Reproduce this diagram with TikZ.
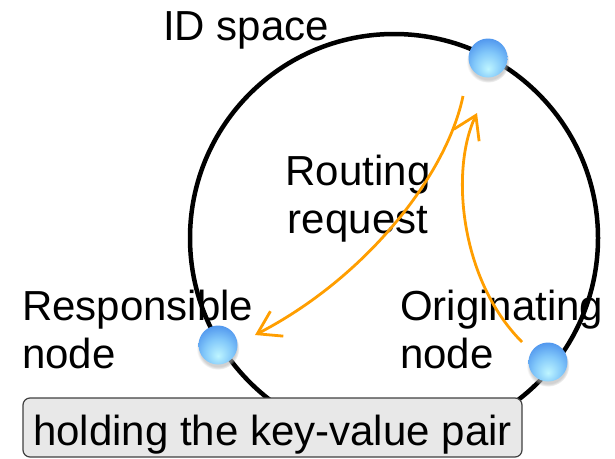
\documentclass[tikz,border=0pt]{standalone}
\usepackage{fontspec}
\setmainfont{Liberation Sans}
\usepackage{xcolor}
\usepackage{tikz}
\usetikzlibrary{positioning,arrows.meta,shadows}

\definecolor{reqorange}{RGB}{255,158,0}
\pgfdeclareradialshading{peerglass}{\pgfpoint{0bp}{-14bp}}{%
  color(0bp)=(rgb,255:red,190;green,245;blue,255);
  color(18bp)=(rgb,255:red,130;green,200;blue,250);
  color(36bp)=(rgb,255:red,70;green,140;blue,235);
  color(52bp)=(rgb,255:red,35;green,80;blue,200);
  color(70bp)=(rgb,255:red,35;green,80;blue,200)}

\begin{document}
\begin{tikzpicture}[
  x=1pt, y=-1pt,
  every node/.style={font=\fontsize{42}{48}\selectfont},
  peer/.style={circle, minimum size=39pt, inner sep=0pt,
               shading=peerglass,
               circular drop shadow={shadow xshift=0pt, shadow yshift=-3pt,
                                     fill=gray!60, opacity=0.6}},
  lbl/.style={inner sep=0pt, align=left, anchor=base west},
  ring/.style={line width=4.5pt},
  req/.style={-{Straight Barb[length=22pt, width=28pt]},
              line width=2.8pt, reqorange},
  keybox/.style={draw=black!75, fill=black!9, line width=1.2pt,
                 rounded corners=7pt, inner sep=0pt,
                 minimum width=499pt, minimum height=59pt,
                 text height=35pt, text depth=0pt}
]
\useasboundingbox (0,0) rectangle (615,458);

%% --- ID space ring --------------------------------------------
\coordinate (ctr) at (394,238);
\draw[ring] (ctr) circle (204);

%% --- Labels (base = last line) --------------------------------
\node[lbl] (idspace) at (163,40) {ID space};
\node[inner sep=0pt, align=center, anchor=base] (routing) at (358,233)
     {Routing\\request};
\node[lbl] (resplbl) at (22,368) {Responsible\\node};
\node[lbl] (origlbl) at (400,368) {Originating\\node};

%% --- Routing arrows -------------------------------------------
\coordinate (top) at (488,58);
\coordinate (resp) at (218,345);
\coordinate (orig) at (548,362);

\draw[req] ([shift={(-25,38)}]top) .. controls +(-16,78) and +(112,-58)
           .. ([shift={(37,-10)}]resp);
\draw[req] ([shift={(-26,-20)}]orig) .. controls +(-62,-62) and +(-27,57)
           .. ([shift={(-11,55)}]top);

%% --- Peers ----------------------------------------------------
\node[peer] (toppeer) at (top) {};
\node[peer] (resppeer) at (resp) {};
\node[peer] (origpeer) at (orig) {};

%% --- Key-value box --------------------------------------------
\node[keybox] (pair) at (272.5,427.5) {holding the key-value pair};

\end{tikzpicture}
\end{document}
